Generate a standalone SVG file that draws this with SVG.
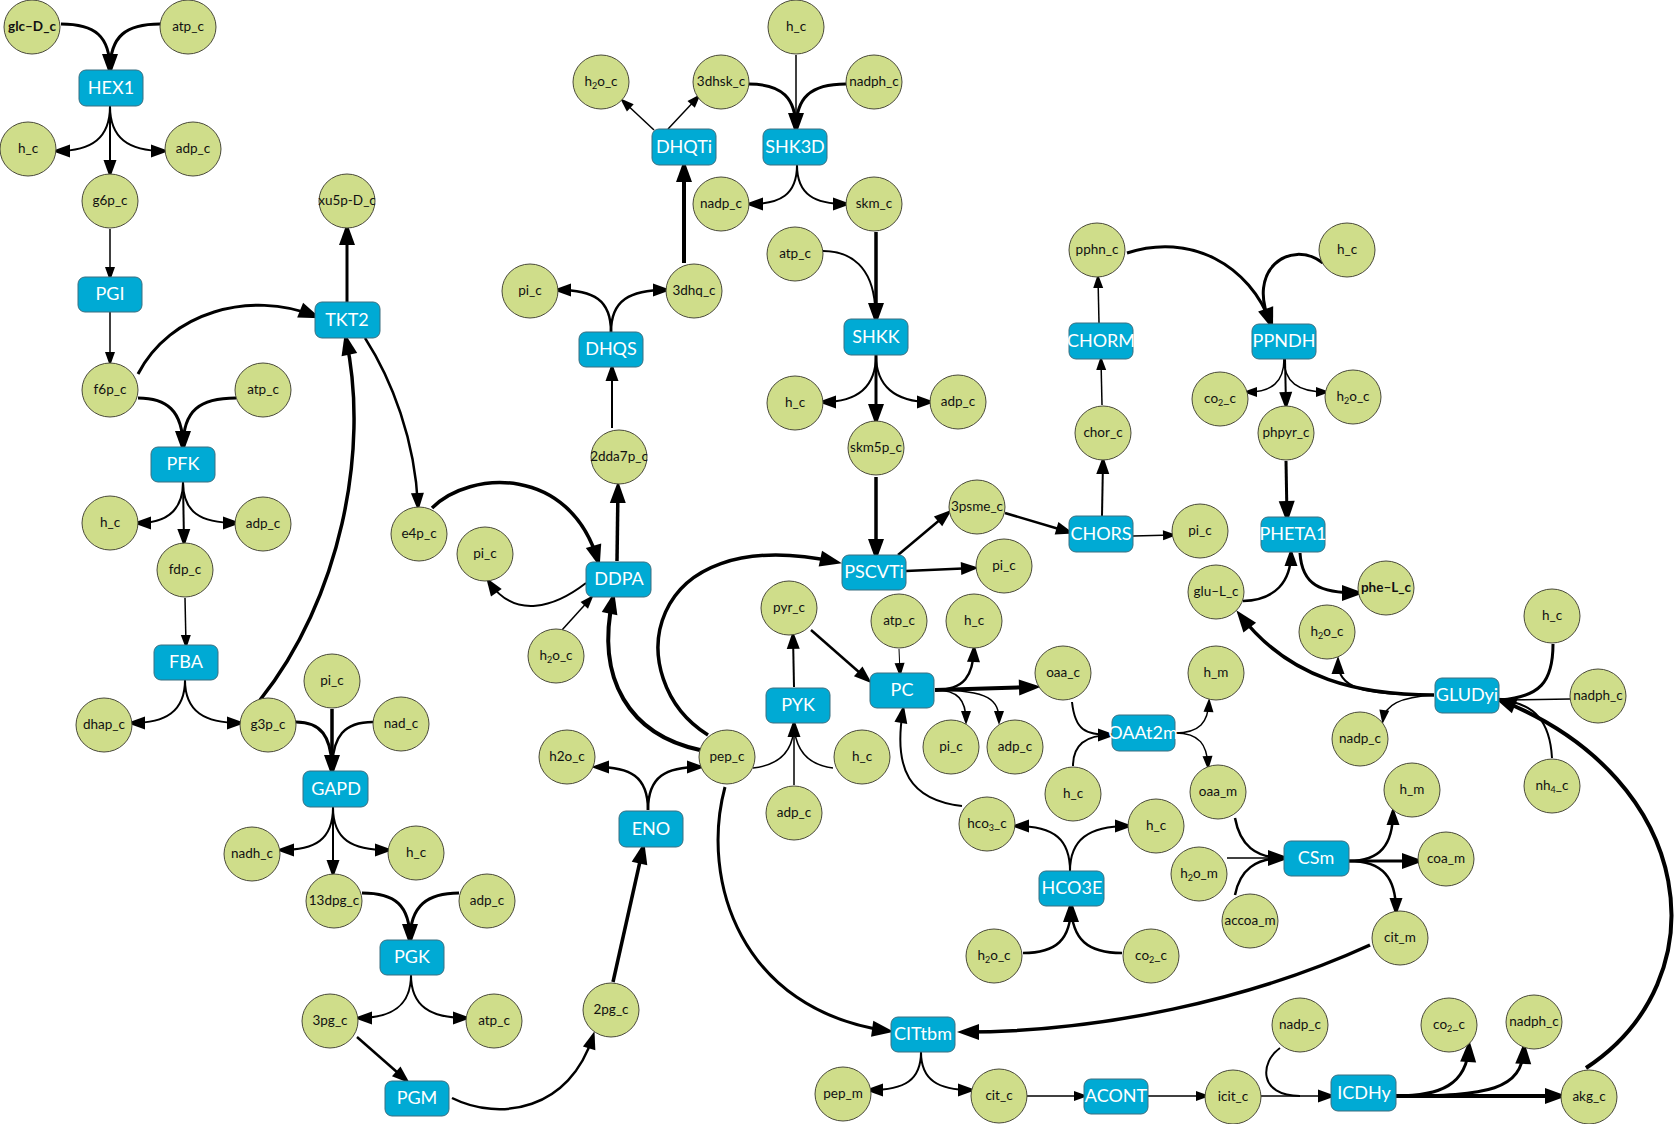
<svg xmlns="http://www.w3.org/2000/svg" width="1678" height="1124" viewBox="0 0 1678 1124">
<style>
.met ellipse{fill:#cfdd8a;stroke:#4a4a3a;stroke-width:1}
.met text{font-family:Lato,"Open Sans",sans-serif;font-size:13.5px;fill:#111;text-anchor:middle}
.met text.b{font-weight:bold}
.rxn rect{fill:#00aad4;stroke:#3a6f80;stroke-width:1}
.rxn text{font-family:Lato,"Open Sans",sans-serif;font-size:18px;fill:#fff;text-anchor:middle}
.e{fill:none;stroke:#000}
.sub{font-size:9px}
</style>
<defs>
<marker id="aS" markerUnits="userSpaceOnUse" markerWidth="14" markerHeight="10" refX="10" refY="5" orient="auto" overflow="visible"><path d="M0,0 L14,5 L0,10 z" fill="#000"/></marker>
<marker id="aM" markerUnits="userSpaceOnUse" markerWidth="18" markerHeight="13" refX="13" refY="6.5" orient="auto" overflow="visible"><path d="M0,0 L18,6.5 L0,13 z" fill="#000"/></marker>
<marker id="aL" markerUnits="userSpaceOnUse" markerWidth="22" markerHeight="16" refX="16" refY="8" orient="auto" overflow="visible"><path d="M0,0 L22,8 L0,16 z" fill="#000"/></marker>
</defs>
<rect width="1678" height="1124" fill="#fff"/>
<g id="edges">
<!-- HEX1 -->
<path class="e" d="M61,24 C95,24 110,36 110,70" stroke-width="3" marker-end="url(#aL)"/>
<path class="e" d="M160,24 C126,24 110,36 110,70" stroke-width="3"/>
<path class="e" d="M110,106 C110,138 92,151 57,151" stroke-width="2" marker-end="url(#aM)"/>
<path class="e" d="M110,106 C110,138 128,151 164,151" stroke-width="2" marker-end="url(#aM)"/>
<path class="e" d="M110,106 L110,173" stroke-width="2" marker-end="url(#aM)"/>
<!-- PGI -->
<path class="e" d="M110,229 L110,277" stroke-width="1.5" marker-end="url(#aS)"/>
<path class="e" d="M110,312 L110,362" stroke-width="1.5" marker-end="url(#aS)"/>
<!-- TKT2 -->
<path class="e" d="M347,302 L347,229" stroke-width="3" marker-end="url(#aL)"/>
<path class="e" d="M138,374 C170,312 250,290 315,316" stroke-width="3" marker-end="url(#aL)"/>
<path class="e" d="M260,700 C340,600 370,450 346,339" stroke-width="3.5" marker-end="url(#aL)"/>
<path class="e" d="M365,338 C392,380 415,440 418,506" stroke-width="2.5" marker-end="url(#aM)"/>
<!-- PFK -->
<path class="e" d="M138,398 C166,398 183,410 183,447" stroke-width="3" marker-end="url(#aL)"/>
<path class="e" d="M236,398 C200,398 183,410 183,447" stroke-width="3"/>
<path class="e" d="M183,482 C183,512 165,523 138,523" stroke-width="2" marker-end="url(#aM)"/>
<path class="e" d="M183,482 C183,512 200,523 236,523" stroke-width="2" marker-end="url(#aM)"/>
<path class="e" d="M183,482 L184,542" stroke-width="2" marker-end="url(#aM)"/>
<!-- FBA -->
<path class="e" d="M185,598 L186,645" stroke-width="1.5" marker-end="url(#aS)"/>
<path class="e" d="M185,680 C185,712 165,723 132,723" stroke-width="2" marker-end="url(#aM)"/>
<path class="e" d="M185,680 C185,712 205,723 240,723" stroke-width="2" marker-end="url(#aM)"/>
<!-- GAPD -->
<path class="e" d="M296,722 C320,722 332,735 332,771" stroke-width="3" marker-end="url(#aL)"/>
<path class="e" d="M332,709 L332,771" stroke-width="3.5"/>
<path class="e" d="M373,722 C345,722 332,735 332,771" stroke-width="2.5"/>
<path class="e" d="M333,807 C333,840 315,850 281,850" stroke-width="2" marker-end="url(#aM)"/>
<path class="e" d="M333,807 C333,840 352,850 388,850" stroke-width="2" marker-end="url(#aM)"/>
<path class="e" d="M333,807 L333,873" stroke-width="2" marker-end="url(#aM)"/>
<!-- PGK -->
<path class="e" d="M362,893 C395,893 410,905 410,940" stroke-width="3" marker-end="url(#aL)"/>
<path class="e" d="M459,893 C428,893 410,905 410,940" stroke-width="3"/>
<path class="e" d="M411,975 C411,1006 392,1018 359,1018" stroke-width="2" marker-end="url(#aM)"/>
<path class="e" d="M411,975 C411,1006 430,1018 466,1018" stroke-width="2" marker-end="url(#aM)"/>
<!-- PGM -->
<path class="e" d="M357,1037 L406,1080" stroke-width="2.5" marker-end="url(#aM)"/>
<path class="e" d="M452,1098 C500,1122 570,1110 593,1036" stroke-width="2.5" marker-end="url(#aM)"/>
<!-- ENO -->
<path class="e" d="M613,982 L643,848" stroke-width="3.5" marker-end="url(#aL)"/>
<path class="e" d="M648,810 C648,776 630,767 596,767" stroke-width="2.5" marker-end="url(#aM)"/>
<path class="e" d="M648,810 C648,776 666,767 700,767" stroke-width="2.5" marker-end="url(#aM)"/>
<!-- DDPA -->
<path class="e" d="M432,508 C470,470 570,465 598,561" stroke-width="3.5" marker-end="url(#aL)"/>
<path class="e" d="M617,561 L618,487" stroke-width="3.5" marker-end="url(#aL)"/>
<path class="e" d="M586,583 C555,607 515,620 489,582" stroke-width="2" marker-end="url(#aM)"/>
<path class="e" d="M562,630 L591,598" stroke-width="1.5" marker-end="url(#aS)"/>
<path class="e" d="M700,750 C630,735 595,680 613,598" stroke-width="4" marker-end="url(#aL)"/>
<!-- pep to PSCVTi / CITtbm -->
<path class="e" d="M708,735 C620,680 640,520 836,562" stroke-width="3.5" marker-end="url(#aL)"/>
<path class="e" d="M725,787 C700,880 740,1010 888,1031" stroke-width="3" marker-end="url(#aL)"/>
<!-- DHQS -->
<path class="e" d="M612,428 L612,368" stroke-width="2" marker-end="url(#aM)"/>
<path class="e" d="M611,332 C611,300 594,290 558,290" stroke-width="2.5" marker-end="url(#aM)"/>
<path class="e" d="M611,332 C611,300 630,290 666,290" stroke-width="2.5" marker-end="url(#aM)"/>
<!-- DHQTi -->
<path class="e" d="M684,263 L684,166" stroke-width="4" marker-end="url(#aL)"/>
<path class="e" d="M654,130 L623,101" stroke-width="1.5" marker-end="url(#aS)"/>
<path class="e" d="M668,129 L698,97" stroke-width="1.5" marker-end="url(#aS)"/>
<!-- SHK3D -->
<path class="e" d="M796,55 L796,129" stroke-width="1.5"/>
<path class="e" d="M749,84 C782,84 796,98 796,129" stroke-width="3" marker-end="url(#aL)"/>
<path class="e" d="M846,84 C810,84 796,98 796,129" stroke-width="3"/>
<path class="e" d="M797,165 C797,195 780,204 750,204" stroke-width="2" marker-end="url(#aM)"/>
<path class="e" d="M797,165 C797,195 815,204 846,204" stroke-width="2" marker-end="url(#aM)"/>
<!-- SHKK -->
<path class="e" d="M876,232 L876,319" stroke-width="3.5" marker-end="url(#aL)"/>
<path class="e" d="M823,251 C852,251 872,268 875,305" stroke-width="2"/>
<path class="e" d="M876,355 C876,386 858,402 823,402" stroke-width="2" marker-end="url(#aM)"/>
<path class="e" d="M876,355 C876,386 895,402 930,402" stroke-width="2" marker-end="url(#aM)"/>
<path class="e" d="M876,355 L876,420" stroke-width="3" marker-end="url(#aL)"/>
<!-- PSCVTi -->
<path class="e" d="M876,477 L876,555" stroke-width="3.5" marker-end="url(#aL)"/>
<path class="e" d="M898,555 L948,513" stroke-width="2.5" marker-end="url(#aM)"/>
<path class="e" d="M906,571 L974,568" stroke-width="2.5" marker-end="url(#aM)"/>
<!-- CHORS -->
<path class="e" d="M1005,513 L1069,532" stroke-width="2.5" marker-end="url(#aM)"/>
<path class="e" d="M1102,516 L1103,461" stroke-width="2" marker-end="url(#aM)"/>
<path class="e" d="M1133,536 L1173,535" stroke-width="1.5" marker-end="url(#aS)"/>
<!-- CHORM -->
<path class="e" d="M1102,405 L1101,360" stroke-width="1.5" marker-end="url(#aS)"/>
<path class="e" d="M1099,323 L1098,278" stroke-width="1.5" marker-end="url(#aS)"/>
<!-- PPNDH -->
<path class="e" d="M1127,253 C1190,232 1250,265 1271,324" stroke-width="3" marker-end="url(#aL)"/>
<path class="e" d="M1323,263 C1290,238 1245,270 1271,324" stroke-width="3"/>
<path class="e" d="M1284,359 C1284,382 1272,392 1247,392" stroke-width="1.5" marker-end="url(#aS)"/>
<path class="e" d="M1284,359 C1284,382 1298,392 1326,392" stroke-width="1.5" marker-end="url(#aS)"/>
<path class="e" d="M1285,359 L1286,405" stroke-width="2" marker-end="url(#aM)"/>
<!-- PHETA1 -->
<path class="e" d="M1286,461 L1287,517" stroke-width="3" marker-end="url(#aL)"/>
<path class="e" d="M1243,601 C1275,600 1291,582 1291,553" stroke-width="2.5" marker-end="url(#aM)"/>
<path class="e" d="M1300,553 C1302,585 1320,593 1358,593" stroke-width="3" marker-end="url(#aL)"/>
<!-- GLUDyi -->
<path class="e" d="M1586,1068 C1720,980 1700,780 1500,700" stroke-width="4" marker-end="url(#aL)"/>
<path class="e" d="M1553,644 C1553,682 1540,697 1500,700" stroke-width="3"/>
<path class="e" d="M1570,699 L1500,700" stroke-width="1.5"/>
<path class="e" d="M1552,758 C1550,722 1535,703 1500,700" stroke-width="2"/>
<path class="e" d="M1434,695 C1360,695 1290,680 1240,615" stroke-width="3.5" marker-end="url(#aL)"/>
<path class="e" d="M1434,695 C1360,695 1338,688 1338,661" stroke-width="2" marker-end="url(#aM)"/>
<path class="e" d="M1434,695 C1400,697 1385,705 1383,720" stroke-width="1.5" marker-end="url(#aS)"/>
<!-- PYK -->
<path class="e" d="M753,768 C780,765 794,750 794,724" stroke-width="1.5" marker-end="url(#aM)"/>
<path class="e" d="M833,768 C808,765 795,750 794,724" stroke-width="1.5"/>
<path class="e" d="M794,785 L794,724" stroke-width="1.5"/>
<path class="e" d="M794,687 L793,636" stroke-width="2" marker-end="url(#aM)"/>
<!-- PC -->
<path class="e" d="M811,630 L868,680" stroke-width="2.5" marker-end="url(#aM)"/>
<path class="e" d="M899,649 L900,673" stroke-width="1" marker-end="url(#aS)"/>
<path class="e" d="M962,806 C910,800 893,770 903,710" stroke-width="2" marker-end="url(#aM)"/>
<path class="e" d="M935,690 C965,690 973,675 974,649" stroke-width="2.5" marker-end="url(#aM)"/>
<path class="e" d="M935,690 L1035,687" stroke-width="4" marker-end="url(#aL)"/>
<path class="e" d="M935,690 C958,690 966,700 966,721" stroke-width="1.5" marker-end="url(#aS)"/>
<path class="e" d="M935,690 C990,690 999,700 999,721" stroke-width="1.5" marker-end="url(#aS)"/>
<!-- OAAt2m -->
<path class="e" d="M1072,702 C1075,730 1085,735 1111,735" stroke-width="2" marker-end="url(#aM)"/>
<path class="e" d="M1073,766 C1073,745 1085,735 1111,735" stroke-width="2"/>
<path class="e" d="M1175,733 C1200,733 1208,722 1209,702" stroke-width="1.5" marker-end="url(#aS)"/>
<path class="e" d="M1175,733 C1200,733 1207,745 1208,766" stroke-width="1.5" marker-end="url(#aS)"/>
<!-- HCO3E -->
<path class="e" d="M1023,953 C1056,953 1071,940 1071,906" stroke-width="2.5" marker-end="url(#aL)"/>
<path class="e" d="M1122,953 C1088,953 1072,940 1071,906" stroke-width="2.5"/>
<path class="e" d="M1070,871 C1070,840 1055,826 1016,826" stroke-width="2" marker-end="url(#aM)"/>
<path class="e" d="M1070,871 C1070,840 1088,826 1128,826" stroke-width="2" marker-end="url(#aM)"/>
<!-- CSm -->
<path class="e" d="M1235,818 C1240,845 1255,858 1284,858" stroke-width="2.5" marker-end="url(#aL)"/>
<path class="e" d="M1227,858 L1284,858" stroke-width="1.5"/>
<path class="e" d="M1235,895 C1240,870 1255,858 1284,858" stroke-width="2.5"/>
<path class="e" d="M1349,861 C1380,861 1393,845 1393,812" stroke-width="2.5" marker-end="url(#aM)"/>
<path class="e" d="M1349,861 L1418,861" stroke-width="3" marker-end="url(#aL)"/>
<path class="e" d="M1349,861 C1383,861 1396,878 1396,911" stroke-width="2.5" marker-end="url(#aM)"/>
<!-- CITtbm -->
<path class="e" d="M1370,945 C1250,1000 1100,1032 963,1032" stroke-width="3.5" marker-end="url(#aL)"/>
<path class="e" d="M921,1052 C921,1080 905,1090 870,1090" stroke-width="2" marker-end="url(#aM)"/>
<path class="e" d="M921,1052 C921,1080 938,1090 971,1090" stroke-width="2" marker-end="url(#aM)"/>
<!-- ACONT -->
<path class="e" d="M1027,1096 L1084,1096" stroke-width="1.5" marker-end="url(#aS)"/>
<path class="e" d="M1148,1096 L1206,1096" stroke-width="1.5" marker-end="url(#aS)"/>
<!-- ICDHy -->
<path class="e" d="M1261,1096 L1331,1096" stroke-width="1.5" marker-end="url(#aM)"/>
<path class="e" d="M1280,1048 C1260,1062 1258,1096 1300,1096" stroke-width="2"/>
<path class="e" d="M1396,1096 C1440,1096 1467,1085 1469,1046" stroke-width="3" marker-end="url(#aL)"/>
<path class="e" d="M1396,1096 C1490,1096 1522,1090 1524,1048" stroke-width="3" marker-end="url(#aL)"/>
<path class="e" d="M1396,1096 L1561,1096" stroke-width="4" marker-end="url(#aL)"/>
</g>
<g id="reactions">
<g id="r_HEX1" class="rxn"><rect x="79" y="70" width="64" height="36" rx="7"/><text x="111" y="88" dy="6">HEX1</text></g>
<g id="r_PGI" class="rxn"><rect x="78" y="277" width="64" height="35" rx="7"/><text x="110" y="294" dy="6">PGI</text></g>
<g id="r_TKT2" class="rxn"><rect x="315" y="302" width="65" height="36" rx="7"/><text x="347" y="320" dy="6">TKT2</text></g>
<g id="r_PFK" class="rxn"><rect x="151" y="447" width="64" height="35" rx="7"/><text x="183" y="464" dy="6">PFK</text></g>
<g id="r_FBA" class="rxn"><rect x="154" y="645" width="64" height="35" rx="7"/><text x="186" y="662" dy="6">FBA</text></g>
<g id="r_GAPD" class="rxn"><rect x="303" y="771" width="65" height="36" rx="7"/><text x="336" y="789" dy="6">GAPD</text></g>
<g id="r_PGK" class="rxn"><rect x="380" y="940" width="64" height="35" rx="7"/><text x="412" y="957" dy="6">PGK</text></g>
<g id="r_PGM" class="rxn"><rect x="385" y="1081" width="64" height="35" rx="7"/><text x="417" y="1098" dy="6">PGM</text></g>
<g id="r_ENO" class="rxn"><rect x="619" y="811" width="64" height="36" rx="7"/><text x="651" y="829" dy="6">ENO</text></g>
<g id="r_PYK" class="rxn"><rect x="766" y="688" width="64" height="35" rx="7"/><text x="798" y="705" dy="6">PYK</text></g>
<g id="r_DHQTi" class="rxn"><rect x="652" y="129" width="64" height="36" rx="7"/><text x="684" y="147" dy="6">DHQTi</text></g>
<g id="r_SHK3D" class="rxn"><rect x="763" y="129" width="64" height="36" rx="7"/><text x="795" y="147" dy="6">SHK3D</text></g>
<g id="r_DHQS" class="rxn"><rect x="579" y="332" width="64" height="35" rx="7"/><text x="611" y="349" dy="6">DHQS</text></g>
<g id="r_DDPA" class="rxn"><rect x="586" y="562" width="65" height="35" rx="7"/><text x="619" y="579" dy="6">DDPA</text></g>
<g id="r_SHKK" class="rxn"><rect x="844" y="319" width="64" height="36" rx="7"/><text x="876" y="337" dy="6">SHKK</text></g>
<g id="r_CHORM" class="rxn"><rect x="1069" y="323" width="64" height="36" rx="7"/><text x="1101" y="341" dy="6">CHORM</text></g>
<g id="r_PPNDH" class="rxn"><rect x="1252" y="324" width="64" height="35" rx="7"/><text x="1284" y="341" dy="6">PPNDH</text></g>
<g id="r_CHORS" class="rxn"><rect x="1069" y="516" width="64" height="36" rx="7"/><text x="1101" y="534" dy="6">CHORS</text></g>
<g id="r_PSCVTi" class="rxn"><rect x="842" y="555" width="64" height="35" rx="7"/><text x="874" y="572" dy="6">PSCVTi</text></g>
<g id="r_PHETA1" class="rxn"><rect x="1261" y="517" width="64" height="35" rx="7"/><text x="1293" y="534" dy="6">PHETA1</text></g>
<g id="r_PC" class="rxn"><rect x="870" y="673" width="64" height="35" rx="7"/><text x="902" y="690" dy="6">PC</text></g>
<g id="r_OAAt2m" class="rxn"><rect x="1112" y="715" width="63" height="36" rx="7"/><text x="1143" y="733" dy="6">OAAt2m</text></g>
<g id="r_HCO3E" class="rxn"><rect x="1039" y="871" width="65" height="35" rx="7"/><text x="1072" y="888" dy="6">HCO3E</text></g>
<g id="r_CSm" class="rxn"><rect x="1284" y="841" width="65" height="35" rx="7"/><text x="1316" y="858" dy="6">CSm</text></g>
<g id="r_GLUDyi" class="rxn"><rect x="1435" y="678" width="64" height="35" rx="7"/><text x="1467" y="695" dy="6">GLUDyi</text></g>
<g id="r_CITtbm" class="rxn"><rect x="891" y="1017" width="64" height="35" rx="7"/><text x="923" y="1034" dy="6">CITtbm</text></g>
<g id="r_ACONT" class="rxn"><rect x="1084" y="1079" width="64" height="35" rx="7"/><text x="1116" y="1096" dy="6">ACONT</text></g>
<g id="r_ICDHy" class="rxn"><rect x="1331" y="1075" width="65" height="36" rx="7"/><text x="1364" y="1093" dy="6">ICDHy</text></g>
</g>
<g id="metabolites">
<g id="m_glc_D_c" class="met"><ellipse cx="32" cy="27" rx="28" ry="27"/><text class="b" x="32" y="27" dy="4">glc–D_c</text></g>
<g id="m_atp_c_1" class="met"><ellipse cx="188" cy="27" rx="28" ry="27"/><text x="188" y="27" dy="4">atp_c</text></g>
<g id="m_h_c_1" class="met"><ellipse cx="28" cy="149" rx="28" ry="27"/><text x="28" y="149" dy="4">h_c</text></g>
<g id="m_adp_c_1" class="met"><ellipse cx="193" cy="149" rx="28" ry="27"/><text x="193" y="149" dy="4">adp_c</text></g>
<g id="m_g6p_c" class="met"><ellipse cx="110" cy="201" rx="28" ry="27"/><text x="110" y="201" dy="4">g6p_c</text></g>
<g id="m_xu5p_D_c" class="met"><ellipse cx="347" cy="201" rx="28" ry="27"/><text x="347" y="201" dy="4" font-size="12">xu5p-D_c</text></g>
<g id="m_f6p_c" class="met"><ellipse cx="110" cy="390" rx="28" ry="27"/><text x="110" y="390" dy="4">f6p_c</text></g>
<g id="m_atp_c_2" class="met"><ellipse cx="263" cy="390" rx="28" ry="27"/><text x="263" y="390" dy="4">atp_c</text></g>
<g id="m_h_c_2" class="met"><ellipse cx="110" cy="523" rx="28" ry="27"/><text x="110" y="523" dy="4">h_c</text></g>
<g id="m_adp_c_2" class="met"><ellipse cx="263" cy="524" rx="28" ry="27"/><text x="263" y="524" dy="4">adp_c</text></g>
<g id="m_fdp_c" class="met"><ellipse cx="185" cy="570" rx="28" ry="27"/><text x="185" y="570" dy="4">fdp_c</text></g>
<g id="m_pi_c_1" class="met"><ellipse cx="332" cy="681" rx="28" ry="27"/><text x="332" y="681" dy="4">pi_c</text></g>
<g id="m_dhap_c" class="met"><ellipse cx="104" cy="725" rx="28" ry="27"/><text x="104" y="725" dy="4">dhap_c</text></g>
<g id="m_g3p_c" class="met"><ellipse cx="268" cy="725" rx="28" ry="27"/><text x="268" y="725" dy="4">g3p_c</text></g>
<g id="m_nad_c" class="met"><ellipse cx="401" cy="724" rx="28" ry="27"/><text x="401" y="724" dy="4">nad_c</text></g>
<g id="m_e4p_c" class="met"><ellipse cx="419" cy="534" rx="28" ry="27"/><text x="419" y="534" dy="4">e4p_c</text></g>
<g id="m_nadh_c" class="met"><ellipse cx="252" cy="854" rx="28" ry="27"/><text x="252" y="854" dy="4">nadh_c</text></g>
<g id="m_h_c_3" class="met"><ellipse cx="416" cy="853" rx="28" ry="27"/><text x="416" y="853" dy="4">h_c</text></g>
<g id="m_13dpg_c" class="met"><ellipse cx="334" cy="901" rx="28" ry="27"/><text x="334" y="901" dy="4">13dpg_c</text></g>
<g id="m_adp_c_3" class="met"><ellipse cx="487" cy="901" rx="28" ry="27"/><text x="487" y="901" dy="4">adp_c</text></g>
<g id="m_3pg_c" class="met"><ellipse cx="330" cy="1021" rx="28" ry="27"/><text x="330" y="1021" dy="4">3pg_c</text></g>
<g id="m_atp_c_3" class="met"><ellipse cx="494" cy="1021" rx="28" ry="27"/><text x="494" y="1021" dy="4">atp_c</text></g>
<g id="m_2pg_c" class="met"><ellipse cx="611" cy="1010" rx="28" ry="27"/><text x="611" y="1010" dy="4">2pg_c</text></g>
<g id="m_h2o_c_1" class="met"><ellipse cx="567" cy="757" rx="28" ry="27"/><text x="567" y="757" dy="4">h2o_c</text></g>
<g id="m_pep_c" class="met"><ellipse cx="727" cy="757" rx="28" ry="27"/><text x="727" y="757" dy="4">pep_c</text></g>
<g id="m_adp_c_4" class="met"><ellipse cx="794" cy="813" rx="28" ry="27"/><text x="794" y="813" dy="4">adp_c</text></g>
<g id="m_h2o_c_2" class="met"><ellipse cx="601" cy="82" rx="28" ry="27"/><text x="601" y="82" dy="4">h<tspan class="sub" dy="3">2</tspan><tspan dy="-3">o_c</tspan></text></g>
<g id="m_3dhsk_c" class="met"><ellipse cx="721" cy="82" rx="28" ry="27"/><text x="721" y="82" dy="4">3dhsk_c</text></g>
<g id="m_h_c_4" class="met"><ellipse cx="796" cy="27" rx="28" ry="27"/><text x="796" y="27" dy="4">h_c</text></g>
<g id="m_nadph_c_1" class="met"><ellipse cx="874" cy="82" rx="28" ry="27"/><text x="874" y="82" dy="4">nadph_c</text></g>
<g id="m_nadp_c_1" class="met"><ellipse cx="721" cy="204" rx="28" ry="27"/><text x="721" y="204" dy="4">nadp_c</text></g>
<g id="m_skm_c" class="met"><ellipse cx="874" cy="204" rx="28" ry="27"/><text x="874" y="204" dy="4">skm_c</text></g>
<g id="m_atp_c_4" class="met"><ellipse cx="795" cy="254" rx="28" ry="27"/><text x="795" y="254" dy="4">atp_c</text></g>
<g id="m_pi_c_2" class="met"><ellipse cx="530" cy="291" rx="28" ry="27"/><text x="530" y="291" dy="4">pi_c</text></g>
<g id="m_3dhq_c" class="met"><ellipse cx="694" cy="291" rx="28" ry="27"/><text x="694" y="291" dy="4">3dhq_c</text></g>
<g id="m_h_c_5" class="met"><ellipse cx="795" cy="403" rx="28" ry="27"/><text x="795" y="403" dy="4">h_c</text></g>
<g id="m_adp_c_5" class="met"><ellipse cx="958" cy="402" rx="28" ry="27"/><text x="958" y="402" dy="4">adp_c</text></g>
<g id="m_skm5p_c" class="met"><ellipse cx="876" cy="448" rx="28" ry="27"/><text x="876" y="448" dy="4">skm5p_c</text></g>
<g id="m_2dda7p_c" class="met"><ellipse cx="619" cy="457" rx="28" ry="27"/><text x="619" y="457" dy="4" font-size="12">2dda7p_c</text></g>
<g id="m_pi_c_3" class="met"><ellipse cx="485" cy="554" rx="28" ry="27"/><text x="485" y="554" dy="4">pi_c</text></g>
<g id="m_h2o_c_3" class="met"><ellipse cx="556" cy="656" rx="28" ry="27"/><text x="556" y="656" dy="4">h<tspan class="sub" dy="3">2</tspan><tspan dy="-3">o_c</tspan></text></g>
<g id="m_pyr_c" class="met"><ellipse cx="789" cy="608" rx="28" ry="27"/><text x="789" y="608" dy="4">pyr_c</text></g>
<g id="m_3psme_c" class="met"><ellipse cx="977" cy="507" rx="28" ry="27"/><text x="977" y="507" dy="4">3psme_c</text></g>
<g id="m_chor_c" class="met"><ellipse cx="1103" cy="433" rx="28" ry="27"/><text x="1103" y="433" dy="4">chor_c</text></g>
<g id="m_pi_c_4" class="met"><ellipse cx="1200" cy="531" rx="28" ry="27"/><text x="1200" y="531" dy="4">pi_c</text></g>
<g id="m_pi_c_5" class="met"><ellipse cx="1004" cy="566" rx="28" ry="27"/><text x="1004" y="566" dy="4">pi_c</text></g>
<g id="m_pphn_c" class="met"><ellipse cx="1097" cy="250" rx="28" ry="27"/><text x="1097" y="250" dy="4">pphn_c</text></g>
<g id="m_h_c_6" class="met"><ellipse cx="1347" cy="250" rx="28" ry="27"/><text x="1347" y="250" dy="4">h_c</text></g>
<g id="m_co2_c_1" class="met"><ellipse cx="1220" cy="399" rx="28" ry="27"/><text x="1220" y="399" dy="4">co<tspan class="sub" dy="3">2</tspan><tspan dy="-3">_c</tspan></text></g>
<g id="m_h2o_c_4" class="met"><ellipse cx="1353" cy="397" rx="28" ry="27"/><text x="1353" y="397" dy="4">h<tspan class="sub" dy="3">2</tspan><tspan dy="-3">o_c</tspan></text></g>
<g id="m_phpyr_c" class="met"><ellipse cx="1286" cy="433" rx="28" ry="27"/><text x="1286" y="433" dy="4">phpyr_c</text></g>
<g id="m_glu_L_c" class="met"><ellipse cx="1216" cy="592" rx="28" ry="27"/><text x="1216" y="592" dy="4">glu–L_c</text></g>
<g id="m_phe_L_c" class="met"><ellipse cx="1386" cy="588" rx="28" ry="27"/><text class="b" x="1386" y="588" dy="4">phe–L_c</text></g>
<g id="m_h2o_c_5" class="met"><ellipse cx="1327" cy="632" rx="28" ry="27"/><text x="1327" y="632" dy="4">h<tspan class="sub" dy="3">2</tspan><tspan dy="-3">o_c</tspan></text></g>
<g id="m_atp_c_5" class="met"><ellipse cx="899" cy="621" rx="28" ry="27"/><text x="899" y="621" dy="4">atp_c</text></g>
<g id="m_h_c_7" class="met"><ellipse cx="974" cy="621" rx="28" ry="27"/><text x="974" y="621" dy="4">h_c</text></g>
<g id="m_oaa_c" class="met"><ellipse cx="1063" cy="673" rx="28" ry="27"/><text x="1063" y="673" dy="4">oaa_c</text></g>
<g id="m_h_m_1" class="met"><ellipse cx="1216" cy="673" rx="28" ry="27"/><text x="1216" y="673" dy="4">h_m</text></g>
<g id="m_pi_c_6" class="met"><ellipse cx="951" cy="747" rx="28" ry="27"/><text x="951" y="747" dy="4">pi_c</text></g>
<g id="m_adp_c_6" class="met"><ellipse cx="1015" cy="747" rx="28" ry="27"/><text x="1015" y="747" dy="4">adp_c</text></g>
<g id="m_h_c_8" class="met"><ellipse cx="862" cy="757" rx="28" ry="27"/><text x="862" y="757" dy="4">h_c</text></g>
<g id="m_h_c_9" class="met"><ellipse cx="1073" cy="794" rx="28" ry="27"/><text x="1073" y="794" dy="4">h_c</text></g>
<g id="m_oaa_m" class="met"><ellipse cx="1218" cy="792" rx="28" ry="27"/><text x="1218" y="792" dy="4">oaa_m</text></g>
<g id="m_hco3_c" class="met"><ellipse cx="987" cy="824" rx="28" ry="27"/><text x="987" y="824" dy="4">hco<tspan class="sub" dy="3">3</tspan><tspan dy="-3">_c</tspan></text></g>
<g id="m_h_c_10" class="met"><ellipse cx="1156" cy="826" rx="28" ry="27"/><text x="1156" y="826" dy="4">h_c</text></g>
<g id="m_h2o_m" class="met"><ellipse cx="1199" cy="874" rx="28" ry="27"/><text x="1199" y="874" dy="4">h<tspan class="sub" dy="3">2</tspan><tspan dy="-3">o_m</tspan></text></g>
<g id="m_accoa_m" class="met"><ellipse cx="1250" cy="921" rx="28" ry="27"/><text x="1250" y="921" dy="4">accoa_m</text></g>
<g id="m_h2o_c_6" class="met"><ellipse cx="994" cy="956" rx="28" ry="27"/><text x="994" y="956" dy="4">h<tspan class="sub" dy="3">2</tspan><tspan dy="-3">o_c</tspan></text></g>
<g id="m_co2_c_2" class="met"><ellipse cx="1151" cy="956" rx="28" ry="27"/><text x="1151" y="956" dy="4">co<tspan class="sub" dy="3">2</tspan><tspan dy="-3">_c</tspan></text></g>
<g id="m_h_c_11" class="met"><ellipse cx="1552" cy="616" rx="28" ry="27"/><text x="1552" y="616" dy="4">h_c</text></g>
<g id="m_nadph_c_2" class="met"><ellipse cx="1598" cy="696" rx="28" ry="27"/><text x="1598" y="696" dy="4">nadph_c</text></g>
<g id="m_nadp_c_2" class="met"><ellipse cx="1360" cy="739" rx="28" ry="27"/><text x="1360" y="739" dy="4">nadp_c</text></g>
<g id="m_nh4_c" class="met"><ellipse cx="1552" cy="786" rx="28" ry="27"/><text x="1552" y="786" dy="4">nh<tspan class="sub" dy="3">4</tspan><tspan dy="-3">_c</tspan></text></g>
<g id="m_h_m_2" class="met"><ellipse cx="1412" cy="790" rx="28" ry="27"/><text x="1412" y="790" dy="4">h_m</text></g>
<g id="m_coa_m" class="met"><ellipse cx="1446" cy="859" rx="28" ry="27"/><text x="1446" y="859" dy="4">coa_m</text></g>
<g id="m_cit_m" class="met"><ellipse cx="1400" cy="938" rx="28" ry="27"/><text x="1400" y="938" dy="4">cit_m</text></g>
<g id="m_nadp_c_3" class="met"><ellipse cx="1300" cy="1025" rx="28" ry="27"/><text x="1300" y="1025" dy="4">nadp_c</text></g>
<g id="m_co2_c_3" class="met"><ellipse cx="1449" cy="1025" rx="28" ry="27"/><text x="1449" y="1025" dy="4">co<tspan class="sub" dy="3">2</tspan><tspan dy="-3">_c</tspan></text></g>
<g id="m_nadph_c_3" class="met"><ellipse cx="1534" cy="1022" rx="28" ry="27"/><text x="1534" y="1022" dy="4">nadph_c</text></g>
<g id="m_akg_c" class="met"><ellipse cx="1589" cy="1097" rx="28" ry="27"/><text x="1589" y="1097" dy="4">akg_c</text></g>
<g id="m_icit_c" class="met"><ellipse cx="1233" cy="1097" rx="28" ry="27"/><text x="1233" y="1097" dy="4">icit_c</text></g>
<g id="m_cit_c" class="met"><ellipse cx="999" cy="1096" rx="28" ry="27"/><text x="999" y="1096" dy="4">cit_c</text></g>
<g id="m_pep_m" class="met"><ellipse cx="843" cy="1094" rx="28" ry="27"/><text x="843" y="1094" dy="4">pep_m</text></g>
</g>
</svg>
